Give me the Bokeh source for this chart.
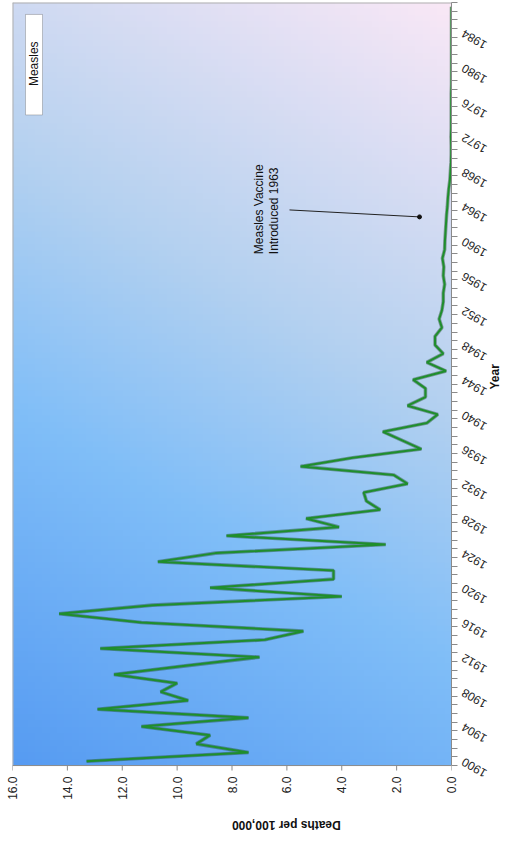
import math
import numpy as np
from bokeh.plotting import figure
from bokeh.models import (Range1d, FixedTicker, PrintfTickFormatter, CustomJSTickFormatter,
                          Label, BoxAnnotation, LinearAxis)
from bokeh.embed import file_html
from bokeh.resources import INLINE

# ---------------- data ----------------
years = list(range(1900, 1988))
deaths = [
    13.3, 7.4, 9.3, 8.8, 11.3, 7.4, 12.9, 9.6, 10.6, 10.0,   # 1900-1909
    12.3, 9.7, 7.0, 12.8, 6.8, 5.4, 11.3, 14.3, 10.9, 4.0,   # 1910-1919
    8.8, 4.3, 4.3, 10.7, 8.6, 2.4, 8.2, 4.1, 5.3, 2.6,       # 1920-1929
    3.1, 3.2, 1.6, 2.1, 5.5, 3.6, 1.1, 1.8, 2.5, 0.9,        # 1930-1939
    0.5, 1.6, 0.95, 0.95, 1.4, 0.2, 0.9, 0.3, 0.6, 0.6,      # 1940-1949
    0.35, 0.45, 0.35, 0.3, 0.3, 0.25, 0.3, 0.28, 0.33, 0.25, # 1950-1959
    0.24, 0.22, 0.2, 0.18, 0.15, 0.13, 0.1, 0.06, 0.04, 0.02,# 1960-1969
    0.01, 0.01, 0.02, 0.01, 0.01, 0.01, 0.01, 0.01, 0.0, 0.0,# 1970-1979
    0.0, 0.0, 0.0, 0.0, 0.0, 0.0, 0.0, 0.0                   # 1980-1987
]
death_ticks = [0, 2, 4, 6, 8, 10, 12, 14, 16]
year_labels = list(range(1900, 1988, 4))
series_name = "Measles"
note_lines = ["Measles Vaccine", "Introduced 1963"]

# ---------------- layout helpers (page pixels -> data, annotations only) ----------------
W, H = 513, 841
FX0, FX1 = 12, 451
FY0, FY1 = 2, 769          # visible plot area
FRAME_BOTTOM = 780         # bokeh frame extends a little lower (white strip holds tick marks)
Y0, Y1 = 1899.5, 1987.5
PX_PER_YEAR = (FY1 - FY0) / (Y1 - Y0)
YB = Y0 - (FRAME_BOTTOM - FY1) / PX_PER_YEAR
def dx(px):
    return 16.0 * (FX1 - px) / (FX1 - FX0)
def yy(py):
    return Y0 + (FY1 - py) / PX_PER_YEAR

FONT = "Liberation Sans"
GREEN = "#1f8e2c"
AXIS_GRAY = "#8a8a8a"
LABEL_SHIFT = 1.55   # rotated year labels hang below their year

p = figure(width=W, height=H, output_backend="svg", toolbar_location=None,
           x_range=Range1d(16, 0), y_range=Range1d(YB, Y1),
           y_axis_location="right",
           min_border_left=FX0, min_border_top=FY0,
           min_border_right=W - FX1, min_border_bottom=H - FRAME_BOTTOM)
p.xgrid.visible = False
p.ygrid.visible = False
p.outline_line_color = None
p.border_fill_color = "white"
p.background_fill_color = "white"

# gradient background
nx, ny = 60, 120
img = np.zeros((ny, nx), dtype=np.uint32)
view = img.view(dtype=np.uint8).reshape((ny, nx, 4))
stops_t = [0.0, 0.35, 0.6, 1.0]
stops_c = [(86, 155, 242), (128, 190, 248), (180, 209, 240), (250, 232, 246)]
for j in range(nx):
    dval = (j + 0.5) / nx * 16.0
    xf = (16.0 - dval) / 16.0
    for i in range(ny):
        yf = (i + 0.5) / ny
        t = 0.25 * xf + 0.75 * yf
        for c in range(3):
            view[i, j, c] = int(np.interp(t, stops_t, [s[c] for s in stops_c]))
        view[i, j, 3] = 255
p.image_rgba(image=[img], x=0, y=Y0, dw=16, dh=Y1 - Y0)

# plot-area border (top and left)
p.segment(x0=[16, 16], y0=[Y0, Y1], x1=[16, 0], y1=[Y1, Y1], line_color="#b0b0b0", line_width=2)

# series line
p.line(deaths, years, line_color="#214f2c", line_width=3.6, line_alpha=0.45)
p.line(deaths, years, line_color=GREEN, line_width=2.0)

# x axis line and tick marks (drawn at the visible plot bottom)
tick_len = 5 / PX_PER_YEAR
p.segment(x0=[16], y0=[Y0], x1=[0], y1=[Y0], line_color=AXIS_GRAY, line_width=1)
p.segment(x0=death_ticks, y0=[Y0] * len(death_ticks), x1=death_ticks,
          y1=[Y0 - tick_len] * len(death_ticks), line_color=AXIS_GRAY, line_width=1)

# x axis (labels only)
xa = p.xaxis[0]
xa.ticker = FixedTicker(ticks=death_ticks)
xa.formatter = PrintfTickFormatter(format="%.1f")
xa.major_label_orientation = math.pi / 2
xa.major_tick_out = 0
xa.major_tick_in = 0
xa.minor_tick_out = 0
xa.minor_tick_in = 0
xa.axis_line_color = None
xa.major_tick_line_color = None
xa.major_label_text_font = FONT
xa.major_label_text_font_size = "12px"
xa.major_label_text_color = "#222222"
xa.major_label_standoff = 0
xa.axis_label = "Deaths per 100,000"
xa.axis_label_orientation = math.pi
xa.axis_label_text_font = FONT
xa.axis_label_text_font_size = "12px"
xa.axis_label_text_font_style = "bold"
xa.axis_label_text_color = "#111111"
xa.axis_label_standoff = 22

# y axis 1: tick marks at year boundaries
ya = p.yaxis[0]
ya.ticker = FixedTicker(ticks=[y - 0.5 for y in years] + [years[-1] + 0.5])
ya.formatter = CustomJSTickFormatter(code="return '';")
ya.bounds = (Y0, Y1)
ya.major_tick_out = 6
ya.major_tick_in = 0
ya.minor_tick_out = 0
ya.minor_tick_in = 0
ya.axis_line_color = AXIS_GRAY
ya.major_tick_line_color = AXIS_GRAY
ya.major_label_standoff = 0

# y axis 2: rotated year labels (no line, no ticks)
ya2 = LinearAxis(
    ticker=FixedTicker(ticks=[v - LABEL_SHIFT for v in year_labels]),
    formatter=CustomJSTickFormatter(code="return String(Math.round(tick + %f));" % LABEL_SHIFT),
    axis_line_color=None, major_tick_line_color=None, minor_tick_line_color=None,
    major_tick_out=0, major_tick_in=0, minor_tick_out=0, minor_tick_in=0,
    major_label_orientation=math.radians(150), major_label_standoff=28,
    major_label_text_font=FONT, major_label_text_font_size="12px",
    major_label_text_color="#222222",
    axis_label="Year", axis_label_orientation=math.pi / 2, axis_label_standoff=-12,
    axis_label_text_font=FONT, axis_label_text_font_size="12px",
    axis_label_text_font_style="bold", axis_label_text_color="#111111",
)
p.add_layout(ya2, "right")

# legend (rotated, drawn manually)
p.add_layout(BoxAnnotation(left=dx(25), right=dx(42), bottom=yy(115), top=yy(14),
                           fill_color="white", fill_alpha=1.0,
                           line_color="#444444", line_width=1))
p.segment(x0=[dx(33.5)], y0=[yy(98)], x1=[dx(33.5)], y1=[yy(88)], line_color=GREEN, line_width=1.5)
p.add_layout(Label(x=dx(33.5), y=yy(86), text=series_name, angle=math.pi / 2,
                   text_align="left", text_baseline="middle",
                   text_font=FONT, text_font_size="12px", text_color="#111111"))

# vaccine annotation
p.segment(x0=[dx(289)], y0=[yy(210.5)], x1=[dx(419)], y1=[yy(217.5)],
          line_color="#222222", line_width=1)
p.scatter(x=[dx(419)], y=[yy(217.5)], size=4, color="#111111")
for txt, px in zip(note_lines, [258, 273]):
    p.add_layout(Label(x=dx(px), y=yy(255), text=txt, angle=math.pi / 2,
                       text_align="left", text_baseline="middle",
                       text_font=FONT, text_font_size="12px", text_color="#111111"))

open("out.html", "w").write(file_html(p, INLINE))
